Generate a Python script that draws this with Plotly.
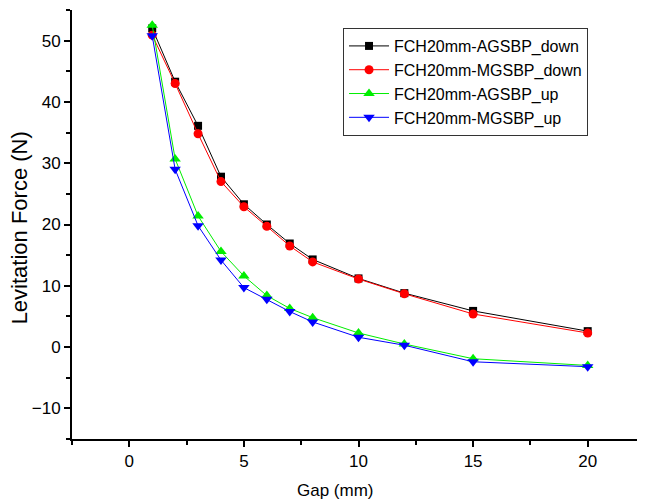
import plotly.graph_objects as go

gap = [1, 2, 3, 4, 5, 6, 7, 8, 10, 12, 15, 20]
agsbp_down = [52.0, 43.3, 36.1, 27.8, 23.3, 20.0, 16.9, 14.3, 11.2, 8.8, 5.9, 2.6]
mgsbp_down = [50.9, 43.0, 34.8, 27.0, 22.9, 19.7, 16.5, 13.9, 11.1, 8.7, 5.4, 2.3]
agsbp_up = [52.5, 30.7, 21.4, 15.6, 11.6, 8.4, 6.3, 4.8, 2.3, 0.5, -1.9, -3.0]
mgsbp_up = [50.8, 29.0, 19.8, 14.2, 9.7, 7.8, 5.8, 4.1, 1.6, 0.3, -2.4, -3.2]

names = ["FCH20mm-AGSBP_down", "FCH20mm-MGSBP_down", "FCH20mm-AGSBP_up", "FCH20mm-MGSBP_up"]
series = [agsbp_down, mgsbp_down, agsbp_up, mgsbp_up]
colors = ["#000000", "#ff0000", "#00ee00", "#0000ff"]
symbols = ["square", "circle", "triangle-up", "triangle-down"]
sizes = [8, 9, 10, 10]

FONT = "Liberation Sans, Arial, sans-serif"

fig = go.Figure()
for n, s, c, sym, sz in zip(names, series, colors, symbols, sizes):
    fig.add_trace(go.Scatter(
        x=gap, y=s, name=n, mode="lines+markers",
        line=dict(color=c, width=1),
        marker=dict(symbol=sym, size=sz, color=c, line=dict(width=0)),
    ))

axis_common = dict(
    showline=True, linecolor="black", linewidth=2, mirror=False,
    showgrid=False, zeroline=False, ticks="outside", ticklen=6, tickwidth=1.5,
    tickcolor="black", tickfont=dict(family=FONT, size=17, color="black"),
)

fig.update_xaxes(range=[-2.5, 22.5], tick0=0, dtick=5,
                 minor=dict(ticks="outside", ticklen=4, dtick=2.5, tick0=0, tickcolor="black", tickwidth=1.5),
                 **axis_common)
fig.update_yaxes(range=[-15, 55], tick0=0, dtick=10,
                 minor=dict(ticks="outside", ticklen=4, dtick=5, tick0=0, tickcolor="black", tickwidth=1.5),
                 **axis_common)

fig.update_layout(
    width=637, height=492,
    margin=dict(l=64, r=0, t=2, b=61),
    plot_bgcolor="white", paper_bgcolor="white",
    font=dict(family=FONT, color="black"),
    legend=dict(
        x=0.473, y=0.958, xanchor="left", yanchor="top",
        bgcolor="white", bordercolor="#333333", borderwidth=1,
        font=dict(family=FONT, size=16, color="black"),
        itemwidth=40,
    ),
    annotations=[
        dict(text="Levitation Force (N)", xref="paper", yref="paper",
             x=-0.09, y=0.492, xanchor="center", yanchor="middle",
             textangle=-90, showarrow=False,
             font=dict(family=FONT, size=22, color="black")),
        dict(text="Gap (mm)", xref="paper", yref="paper",
             x=0.459, y=-0.119, xanchor="center", yanchor="middle",
             showarrow=False,
             font=dict(family=FONT, size=17, color="black")),
    ],
)

fig.write_html("out.html")
